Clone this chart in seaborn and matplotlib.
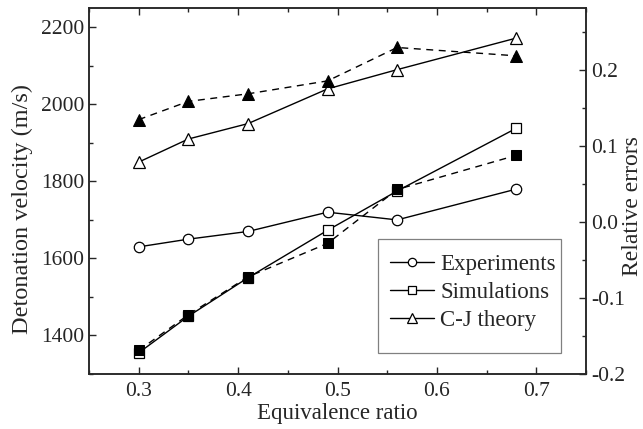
import matplotlib
matplotlib.use("Agg")
import matplotlib.pyplot as plt
import seaborn as sns
import pandas as pd
from matplotlib.patches import Rectangle
from matplotlib.ticker import MultipleLocator, FormatStrFormatter

# Equivalence ratios of the test mixtures
phi = [0.30, 0.35, 0.41, 0.49, 0.56, 0.68]

# Detonation velocities (m/s)
v_experiments = [1630, 1650, 1670, 1720, 1700, 1780]
v_simulations = [1355, 1450, 1550, 1673, 1775, 1938]
v_cj_theory = [1850, 1910, 1950, 2040, 2090, 2172]

# Relative errors with respect to the experiments
err_simulations = [-0.169, -0.122, -0.072, -0.028, 0.043, 0.088]
err_cj_theory = [0.135, 0.159, 0.169, 0.186, 0.230, 0.219]

FS = 15.5
XLABEL_FS = 16.5
YLABEL_FS = 17.5
RLABEL_FS = 17
LEGEND_FS = 16.5

sns.set_theme(style="ticks")
plt.rcParams["font.family"] = ["Liberation Serif", "DejaVu Serif"]
plt.rcParams["font.size"] = FS
plt.rcParams["xtick.labelsize"] = FS
plt.rcParams["ytick.labelsize"] = FS
plt.rcParams["legend.fontsize"] = LEGEND_FS
plt.rcParams["axes.linewidth"] = 1.1
plt.rcParams["xtick.direction"] = "in"
plt.rcParams["ytick.direction"] = "in"

df = pd.DataFrame({
    "phi": phi,
    "exp": v_experiments,
    "sim": v_simulations,
    "cj": v_cj_theory,
    "err_sim": err_simulations,
    "err_cj": err_cj_theory,
})

fig = plt.figure(figsize=(6.43, 4.29), dpi=100)
fig.subplots_adjust(left=89 / 643, right=586 / 643, top=1 - 8 / 429, bottom=1 - 374 / 429)
ax = fig.add_subplot(111)
ax2 = ax.twinx()

open_style = dict(color="black", linewidth=1.0, markerfacecolor="white",
                  markeredgecolor="black", markeredgewidth=0.9)
sns.lineplot(data=df, x="phi", y="exp", ax=ax, marker="o", markersize=7.5,
             label="Experiments", **open_style)
sns.lineplot(data=df, x="phi", y="sim", ax=ax, marker="s", markersize=6.5,
             label="Simulations", **open_style)
sns.lineplot(data=df, x="phi", y="cj", ax=ax, marker="^", markersize=9,
             label="C-J theory", **open_style)

filled_style = dict(color="black", linewidth=1.0, markerfacecolor="black",
                    markeredgecolor="black", dashes=(5, 4))
sns.lineplot(data=df, x="phi", y="err_sim", ax=ax2, marker="s", markersize=7,
             legend=False, **filled_style)
sns.lineplot(data=df, x="phi", y="err_cj", ax=ax2, marker="^", markersize=9,
             legend=False, **filled_style)

ax.set_xlim(0.25, 0.75)
ax.set_ylim(1300, 2250)
ax2.set_ylim(-0.2, 0.282)

ax.xaxis.set_major_locator(MultipleLocator(0.1))
ax.xaxis.set_minor_locator(MultipleLocator(0.05))
ax.xaxis.set_major_formatter(FormatStrFormatter("%.1f"))
ax.yaxis.set_major_locator(MultipleLocator(200))
ax.yaxis.set_minor_locator(MultipleLocator(100))
ax2.yaxis.set_major_locator(MultipleLocator(0.1))
ax2.yaxis.set_minor_locator(MultipleLocator(0.05))
ax2.yaxis.set_major_formatter(FormatStrFormatter("%.1f"))

ax.tick_params(which="major", length=5, width=1.0, top=True, right=False, labelsize=FS)
ax.tick_params(which="minor", length=3, width=1.0, top=True, right=False)
ax2.tick_params(which="major", length=5, width=1.0, labelsize=FS)
ax2.tick_params(which="minor", length=3, width=1.0)
ax.tick_params(axis="x", pad=6)

ax.set_xlabel("Equivalence ratio", fontsize=XLABEL_FS, labelpad=1)
ax.set_ylabel("Detonation velocity (m/s)", fontsize=YLABEL_FS)
ax2.set_ylabel("Relative errors", fontsize=RLABEL_FS)
ax.yaxis.set_label_coords(-0.113, 0.452)
ax2.yaxis.set_label_coords(1.072, 0.46)

for spine in ax2.spines.values():
    spine.set_linewidth(1.1)

# Legend: square grey frame with wider vertical than horizontal padding
frame = Rectangle((0.5815, 0.0574), 0.3682, 0.3115, transform=ax.transAxes,
                  facecolor="white", edgecolor="#808080", linewidth=0.9, zorder=4)
ax.add_patch(frame)
leg = ax.legend(loc="center", bbox_to_anchor=(0.7726, 0.222), borderaxespad=0,
                frameon=False, handlelength=1.9, handletextpad=0.3,
                labelspacing=0.3, borderpad=0, markerscale=0.8,
                fontsize=LEGEND_FS)
leg.set_zorder(5)

fig.savefig("out.png", dpi=100)
